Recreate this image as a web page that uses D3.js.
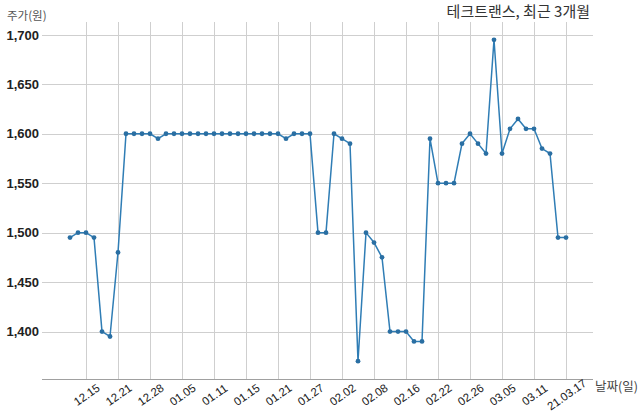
<!DOCTYPE html>
<html><head><meta charset="utf-8">
<script src="https://cdn.jsdelivr.net/npm/d3@7"></script>
<style>
html,body{margin:0;padding:0;background:#fff;}
svg{display:block;font-family:"Noto Sans CJK KR","Noto Sans",sans-serif;}
</style></head>
<body>
<svg id="chart" width="640" height="419"></svg>
<script>
const dates = ["12.11","12.14","12.15","12.16","12.17","12.18","12.21","12.22","12.23","12.24","12.28","12.29","12.30",
"01.04","01.05","01.06","01.07","01.08","01.11","01.12","01.13","01.14","01.15","01.18","01.19","01.20","01.21","01.22",
"01.25","01.26","01.27","01.28","01.29","02.01","02.02","02.03","02.04","02.05","02.08","02.09","02.10","02.15","02.16",
"02.17","02.18","02.19","02.22","02.23","02.24","02.25","02.26","03.02","03.03","03.04","03.05","03.08","03.09","03.10",
"03.11","03.12","03.15","03.16","03.17"];
const prices = [1495,1500,1500,1495,1400,1395,1480,1600,1600,1600,1600,1595,1600,
1600,1600,1600,1600,1600,1600,1600,1600,1600,1600,1600,1600,1600,1600,1595,
1600,1600,1600,1500,1500,1600,1595,1590,1370,1500,1490,1475,1400,1400,1400,
1390,1390,1595,1550,1550,1550,1590,1600,1590,1580,1695,1580,1605,1615,1605,
1605,1585,1580,1495,1495];
const tickDates = ["12.15","12.21","12.28","01.05","01.11","01.15","01.21","01.27","02.02","02.08","02.16","02.22","02.26","03.05","03.11","03.17"];
const tickLabels = ["12.15","12.21","12.28","01.05","01.11","01.15","01.21","01.27","02.02","02.08","02.16","02.22","02.26","03.05","03.11","21.03.17"];
const yTicks = [1400,1450,1500,1550,1600,1650,1700];
const title = "테크트랜스, 최근 3개월";
const yTitle = "주가(원)";
const xTitle = "날짜(일)";

(function(){
const svg = d3.select("#chart");
const pL = 42, pR = 593, pT = 22, pB = 379;
const x = d3.scalePoint().domain(dates).range([70, 566]);
const y = d3.scaleLinear().domain([1352, 1713]).range([pB, pT]);

svg.append("g").selectAll("line").data(yTicks).join("line")
  .attr("x1", pL).attr("x2", pR)
  .attr("y1", d => Math.round(y(d)) + 0.5).attr("y2", d => Math.round(y(d)) + 0.5)
  .attr("stroke", "#cfcfcf").attr("stroke-width", 1);
svg.append("g").selectAll("line").data(tickDates).join("line")
  .attr("x1", d => Math.round(x(d)) + 0.5).attr("x2", d => Math.round(x(d)) + 0.5)
  .attr("y1", pT).attr("y2", pB)
  .attr("stroke", "#cfcfcf").attr("stroke-width", 1);

const xAxis = d3.axisBottom(x).tickValues(tickDates)
  .tickFormat((d, i) => tickLabels[i]).tickSize(0);
const gx = svg.append("g").attr("transform", `translate(0,${pB})`).call(xAxis);
gx.select(".domain").attr("d", `M${pL},0.5H${pR}`).attr("stroke", "#a0a0a0");
gx.selectAll("text")
  .attr("font-size", 11.5).attr("fill", "#222")
  .attr("text-anchor", "middle")
  .attr("dy", null).attr("y", 0)
  .attr("transform", "translate(2.5,19) rotate(-35)");

const yAxis = d3.axisLeft(y).tickValues(yTicks).tickFormat(d3.format(",")).tickSize(0);
const gy = svg.append("g").attr("transform", `translate(${pL},0)`).call(yAxis);
gy.select(".domain").remove();
gy.selectAll("text").attr("font-size", 13).attr("font-weight", "bold").attr("fill", "#222").attr("x", -3);

svg.append("path").datum(prices)
  .attr("fill", "none").attr("stroke", "#2f7db5").attr("stroke-width", 1.5)
  .attr("d", d3.line().x((d, i) => x(dates[i])).y(d => y(d)));
svg.append("g").selectAll("circle").data(prices).join("circle")
  .attr("cx", (d, i) => x(dates[i])).attr("cy", d => y(d)).attr("r", 2.4)
  .attr("fill", "#2a6fa3");

svg.append("text").attr("x", 590).attr("y", 17).attr("text-anchor", "end")
  .attr("font-size", 15).attr("fill", "#333").text(title);
svg.append("text").attr("x", 7).attr("y", 20)
  .attr("font-size", 11.5).attr("fill", "#555").text(yTitle);
svg.append("text").attr("x", 595).attr("y", 391)
  .attr("font-size", 12.5).attr("fill", "#444").text(xTitle);
})();
</script>
</body></html>
